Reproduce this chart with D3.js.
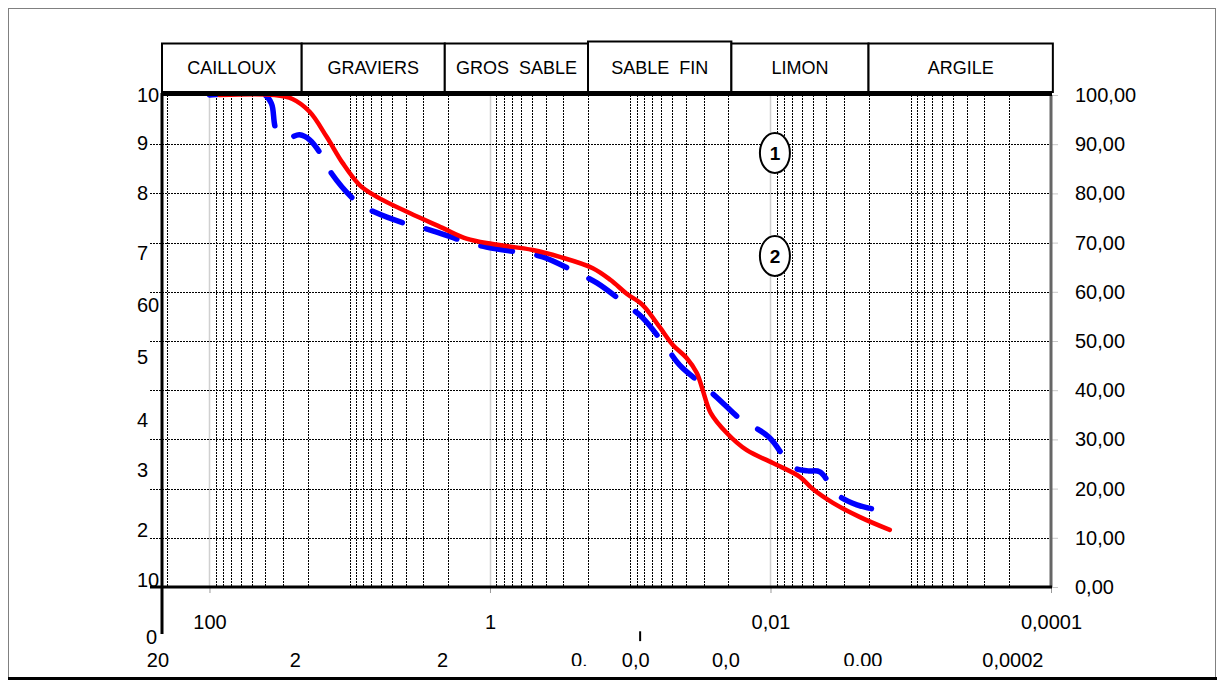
<!DOCTYPE html>
<html>
<head>
<meta charset="utf-8">
<script src="https://cdn.jsdelivr.net/npm/d3@7"></script>
<style>
  body { margin: 0; background: #fff; }
  svg { display: block; }
</style>
</head>
<body>
<svg id="chart" width="1218" height="680"></svg>
<script>
// soil classes and their limits (mm)
var classNames = ["CAILLOUX", "GRAVIERS", "GROS  SABLE", "SABLE  FIN", "LIMON", "ARGILE"];
var classEdges = [218, 22, 2.1, 0.2, 0.019, 0.002, 0.000097];

// curve 1 (red): diameter (mm) / passing (%)
var diam1 = [85, 34.4, 25.6, 19.3, 14.6, 11.25, 8.5, 6.4, 3.74, 2.18, 1.47, 0.957, 0.496, 0.318, 0.185, 0.138,
  0.106, 0.0815, 0.0616, 0.0497, 0.0395, 0.0335, 0.0304, 0.0267, 0.0205, 0.01476, 0.00962, 0.00618,
  0.00499, 0.00359, 0.0023, 0.00141];
var pass1 = [100, 100, 99.2, 96.6, 91.5, 86.2, 81.7, 79.3, 76.0, 73.0, 70.8, 69.7, 68.5, 67.1, 64.8, 62.4,
  59.6, 57.3, 52.8, 49.2, 46.5, 43.5, 40.0, 35.4, 31.3, 27.8, 25.2, 22.4,
  19.9, 17.1, 14.2, 11.6];

// curve 2 (blue, dashed)
var diam2 = [100, 40.5, 36.1, 33.3, 27.8, 22.8, 19.3, 15.9, 13.5, 8.94, 6.65, 3.74, 2.70, 1.47, 1.06,
  0.585, 0.421, 0.237, 0.173, 0.106, 0.0815, 0.0549, 0.0444, 0.0285, 0.0219, 0.0165, 0.01337, 0.0101,
  0.00693, 0.00542, 0.00445, 0.00331, 0.00242, 0.00141];
var pass2 = [100, 100, 98.2, 92.9, 91.3, 91.9, 90.9, 87.8, 84.1, 78.3, 76.2, 73.6, 72.6, 70.1, 69.1,
  67.9, 67.1, 63.8, 61.8, 57.3, 54.7, 48.6, 45.1, 40.4, 37.4, 34.2, 32.7, 30.3,
  24.4, 23.6, 23.4, 18.7, 16.7, 15.2];

// axis labels
var rightTicks = [0, 10, 20, 30, 40, 50, 60, 70, 80, 90, 100];
var bottomTicks = [100, 1, 0.01, 0.0001];
var leftText = ["10", "9", "8", "7", "60", "5", "4", "3", "2", "10"];
var leftPos = [100, 90.2, 80.1, 67.9, 57.3, 46.7, 33.9, 23.8, 11.6, 1.4];
var row2Text = ["20", "2", "2", "0,", "0,0", "0,0", "0,00", "0,0002"];
var row2Pos = [233, 24.4, 2.18, 0.231, 0.0914, 0.0208, 0.00219, 0.000187];
var row2Cut = [3, 6];
var strayText = "0", strayDiam = 259, strayPass = -10.2;
var markDiam = 0.085, markPass = [-9, -11];

// circled curve numbers
var notes = ["1", "2"];
var noteDiam = [0.0093, 0.0093];
var notePass = [88.2, 67.3];

var font = "'Liberation Sans', Arial, sans-serif";
var svg = d3.select("#chart");

var x = d3.scaleLog().domain([218, 0.0001]).range([162, 1051]);
var y = d3.scaleLinear().domain([0, 100]).range([587, 95]);

// outer frame
svg.append("rect").attr("x", 8.5).attr("y", 8.5).attr("width", 1207).attr("height", 669)
  .attr("fill", "none").attr("stroke", "#808080");
svg.append("line").attr("x1", 8).attr("x2", 1217).attr("y1", 678.5).attr("y2", 678.5)
  .attr("stroke", "#000").attr("stroke-width", 3);

// vertical grid
var vticks = x.ticks().filter(function(v) { return v > 0.00011; });
function isMajor(v) {
  var l = Math.log10(v), r = Math.round(l);
  return Math.abs(l - r) < 1e-6 && r % 2 === 0;
}
svg.append("g").selectAll("line").data(vticks).enter().append("line")
  .attr("x1", function(d) { return Math.round(x(d)) + 0.5; })
  .attr("x2", function(d) { return Math.round(x(d)) + 0.5; })
  .attr("y1", y(100)).attr("y2", y(0))
  .attr("stroke", function(d) { return isMajor(d) ? "#d0d0d0" : "#000"; })
  .attr("stroke-width", function(d) { return isMajor(d) ? 1.5 : 1; })
  .attr("stroke-dasharray", function(d) { return isMajor(d) ? null : "2,1"; });

// horizontal grid
svg.append("g").selectAll("line").data(rightTicks.slice(1, -1)).enter().append("line")
  .attr("x1", 150).attr("x2", 1052)
  .attr("y1", function(d) { return Math.round(y(d)) + 0.5; })
  .attr("y2", function(d) { return Math.round(y(d)) + 0.5; })
  .attr("stroke", "#000").attr("stroke-dasharray", "2,1");

// right axis
svg.append("g").attr("transform", "translate(1052,0)")
  .call(d3.axisRight(y).tickValues(rightTicks).tickSize(6).tickPadding(17)
    .tickFormat(function(d) { return d.toFixed(2).replace(".", ","); }))
  .attr("font-size", 20).attr("font-family", font)
  .call(function(g) { g.select(".domain").remove(); })
  .call(function(g) { g.selectAll("line").attr("stroke", "#c8c8c8"); })
  .call(function(g) { g.selectAll("text").attr("fill", "#000"); });

// bottom axis
svg.append("g").attr("transform", "translate(0,587)")
  .call(d3.axisBottom(x).tickValues(bottomTicks).tickSize(6).tickPadding(22)
    .tickFormat(function(d) { return String(d).replace(".", ","); }))
  .attr("font-size", 20).attr("font-family", font)
  .call(function(g) { g.select(".domain").remove(); })
  .call(function(g) { g.selectAll("line").attr("stroke", "#999"); })
  .call(function(g) { g.selectAll("text").attr("fill", "#000"); });

// right edge of plot
svg.append("line").attr("x1", 1051).attr("x2", 1051).attr("y1", y(100)).attr("y2", y(0))
  .attr("stroke", "#666").attr("stroke-width", 3);

// curves
var line = d3.line()
  .x(function(d) { return x(d[0]); })
  .y(function(d) { return y(d[1]); })
  .curve(d3.curveCatmullRom.alpha(0.5));

svg.append("path").datum(d3.zip(diam2, pass2)).attr("d", line)
  .attr("fill", "none").attr("stroke", "#0000ff").attr("stroke-width", 5.5)
  .attr("stroke-linecap", "round").attr("stroke-dasharray", "32,25");
svg.append("path").datum(d3.zip(diam1, pass1)).attr("d", line)
  .attr("fill", "none").attr("stroke", "#ff0000").attr("stroke-width", 4.5)
  .attr("stroke-linecap", "round").attr("stroke-linejoin", "round");

// axes lines
svg.append("line").attr("x1", 161).attr("x2", 1052).attr("y1", y(100) - 0.5).attr("y2", y(100) - 0.5)
  .attr("stroke", "#000").attr("stroke-width", 3);
svg.append("line").attr("x1", 150).attr("x2", 1052).attr("y1", y(0)).attr("y2", y(0))
  .attr("stroke", "#000").attr("stroke-width", 3);
svg.append("line").attr("x1", 162).attr("x2", 162).attr("y1", y(100) - 2).attr("y2", 634)
  .attr("stroke", "#000").attr("stroke-width", 3);

// class header boxes
var head = svg.append("g");
classNames.forEach(function(name, i) {
  var x0 = x(classEdges[i]), x1 = x(classEdges[i + 1]);
  var top = i === 3 ? 41.5 : 43.5;
  head.append("rect").attr("x", x0).attr("y", top).attr("width", x1 - x0).attr("height", 92 - top)
    .attr("fill", "#fff").attr("stroke", "#000").attr("stroke-width", 2);
  head.append("text").attr("x", (x0 + x1) / 2).attr("y", 68).attr("dy", "0.35em")
    .attr("text-anchor", "middle").attr("font-family", font).attr("font-size", 18)
    .style("white-space", "pre").text(name);
});

// left labels
svg.append("g").selectAll("text").data(leftText).enter().append("text")
  .attr("x", 137).attr("y", function(d, i) { return y(leftPos[i]); }).attr("dy", "0.35em")
  .attr("font-family", font).attr("font-size", 20).text(function(d) { return d; });
svg.append("text").attr("x", x(strayDiam)).attr("y", y(strayPass)).attr("dy", "0.35em")
  .attr("text-anchor", "middle").attr("font-family", font).attr("font-size", 20).text(strayText);
svg.append("line").attr("x1", x(markDiam)).attr("x2", x(markDiam))
  .attr("y1", y(markPass[0])).attr("y2", y(markPass[1]))
  .attr("stroke", "#000").attr("stroke-width", 2);

// second row of bottom labels
svg.append("clipPath").attr("id", "cut").append("rect")
  .attr("x", 0).attr("y", 600).attr("width", 1218).attr("height", 66);
svg.append("g").selectAll("text").data(row2Text).enter().append("text")
  .attr("x", function(d, i) { return x(row2Pos[i]); }).attr("y", 660).attr("dy", "0.35em")
  .attr("text-anchor", "middle").attr("font-family", font).attr("font-size", 20)
  .attr("clip-path", function(d, i) { return row2Cut.indexOf(i) >= 0 ? "url(#cut)" : null; })
  .text(function(d) { return d; });

// circled numbers
var note = svg.append("g").selectAll("g").data(notes).enter().append("g")
  .attr("transform", function(d, i) { return "translate(" + x(noteDiam[i]) + "," + y(notePass[i]) + ")"; });
note.append("ellipse").attr("rx", 15).attr("ry", 20)
  .attr("fill", "#fff").attr("stroke", "#000").attr("stroke-width", 2);
note.append("text").attr("dy", "0.36em").attr("text-anchor", "middle")
  .attr("font-family", font).attr("font-size", 19).attr("font-weight", "bold")
  .text(function(d) { return d; });
</script>
</body>
</html>
